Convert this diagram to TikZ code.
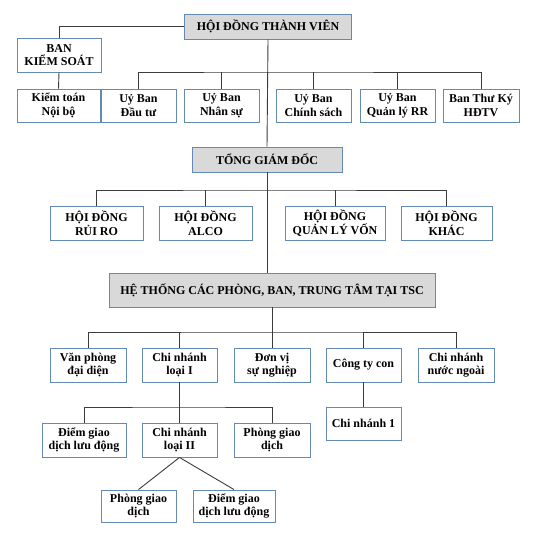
\documentclass[tikz,border=0pt]{standalone}
\usepackage{fontspec}
\setmainfont{Liberation Serif}
\usepackage{xcolor}
\usepackage{tikz}
\usetikzlibrary{calc,positioning}
\definecolor{boxblue}{RGB}{98,138,178}
\definecolor{headgray}{RGB}{217,217,217}
\definecolor{linkgray}{RGB}{60,60,60}
\tikzset{
  box/.style={draw=boxblue, line width=0.9pt, fill=white, align=center, inner sep=1pt,
    minimum width=75pt, minimum height=33pt, font=\fontsize{12}{13.5}\selectfont\bfseries},
  headbox/.style={box, fill=headgray, minimum height=25pt},
  link/.style={draw=linkgray, line width=0.9pt}
}

\begin{document}
\begin{tikzpicture}[x=1pt,y=-1pt]
        \useasboundingbox[fill=white] (0,0) rectangle (537,537);
        % Top level
        \node[headbox, minimum width=167pt] (hdtv) at (268,26.5) {HỘI ĐỒNG THÀNH VIÊN};
        \node[box, minimum width=84pt, minimum height=34pt] (bks) at (59,55) {BAN\\KIỂM SOÁT};
        \node[box, minimum width=83pt] (ktnb) at (58.5,105.5) {Kiểm toán\\Nội bộ};
        % Committees
        \node[box] (ubdt) at (138.5,105.5) {Uỷ Ban\\Đầu tư};
        \node[box] (ubns) at (221.5,105.5) {Uỷ Ban\\Nhân sự};
        \node[box] (ubcs) at (313.5,105.5) {Uỷ Ban\\Chính sách};
        \node[box] (ubrr) at (397.5,105.5) {Uỷ Ban\\Quản lý RR};
        \node[box, minimum width=76pt] (btk) at (481,105.5) {Ban Thư Ký\\HĐTV};
        % General director and councils
        \node[headbox, minimum width=150pt] (tgd) at (267,159.5) {TỔNG GIÁM ĐỐC};
        \node[box, minimum width=93pt, minimum height=34pt] (hdrr) at (96.5,223) {HỘI ĐỒNG\\RỦI RO};
        \node[box, minimum width=93pt, minimum height=34pt] (hdalco) at (205.5,223) {HỘI ĐỒNG\\ALCO};
        \node[box, minimum width=100pt, minimum height=34pt] (hdqlv) at (335,223) {HỘI ĐỒNG\\QUẢN LÝ VỐN};
        \node[box, minimum width=91pt, minimum height=34pt] (hdk) at (446.5,223) {HỘI ĐỒNG\\KHÁC};
        % Head office system
        \node[headbox, minimum width=326pt, minimum height=34pt] (tsc) at (272,290) {HỆ THỐNG CÁC PHÒNG, BAN, TRUNG TÂM TẠI TSC};
        \node[box, minimum width=76pt, minimum height=34pt] (vpdd) at (88,365) {Văn phòng\\đại diện};
        \node[box, minimum height=34pt] (cn1) at (179.5,365) {Chi nhánh\\loại I};
        \node[box, minimum width=76pt, minimum height=34pt] (dvsn) at (272,365) {Đơn vị\\sự nghiệp};
        \node[box, minimum height=34pt] (cty) at (363.5,365) {Công ty con};
        \node[box, minimum width=76pt, minimum height=34pt] (cnnn) at (456,365) {Chi nhánh\\nước ngoài};
        \node[box] (ctycn) at (363.5,423.5) {Chi nhánh 1};
        % Branch levels
        \node[box, minimum width=84pt, minimum height=34pt] (dgld1) at (84,440) {Điểm giao\\dịch lưu động};
        \node[box, minimum height=34pt] (cn2) at (179.5,440) {Chi nhánh\\loại II};
        \node[box, minimum width=76pt, minimum height=34pt] (pgd1) at (272,440) {Phòng giao\\dịch};
        \node[box, minimum height=32pt] (pgd2) at (138.5,506) {Phòng giao\\dịch};
        \node[box, minimum width=82pt, minimum height=32pt] (dgld2) at (234,506) {Điểm giao\\dịch lưu động};

        % bus points
        \coordinate (ubbus) at (268,72);
        \coordinate (hdbus) at (268,190);
        \coordinate (tscbus) at (272,332);
        \coordinate (cnbus) at (179.5,407);

        % trunk
        \draw[link] (hdtv.south) -- (tgd.north);
        \draw[link] (tgd.south) -- (tgd.south |- tsc.north);
        \draw[link] (tsc.south) -- (dvsn.north);
        \draw[link] (hdtv.west) -| (bks.north);
        \draw[link] (bks.south) -- (ktnb.north);
        % committees
        \draw[link] (ubdt.north) |- (ubbus) -| (btk.north);
        \foreach \n in {ubns,ubcs,ubrr}
          \draw[link] (\n.north) -- (\n.north |- ubbus);
        % councils
        \draw[link] (hdrr.north) |- (hdbus) -| (hdk.north);
        \foreach \n in {hdalco,hdqlv}
          \draw[link] (\n.north) -- (\n.north |- hdbus);
        % units
        \draw[link] (vpdd.north) |- (tscbus) -| (cnnn.north);
        \foreach \n in {cn1,cty}
          \draw[link] (\n.north) -- (\n.north |- tscbus);
        \draw[link] (cty.south) -- (ctycn.north);
        % branches
        \draw[link] (cn1.south) -- (cn2.north);
        \draw[link] (dgld1.north) |- (cnbus) -| (pgd1.north);
        \draw[link] (cn2.south) -- (pgd2.north);
        \draw[link] (cn2.south) -- (dgld2.north);
\end{tikzpicture}
\end{document}
